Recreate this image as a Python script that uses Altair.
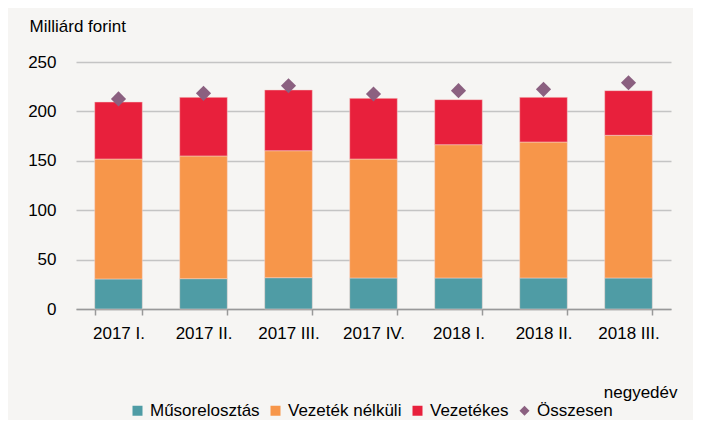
import altair as alt
import pandas as pd

quarters = ["2017 I.", "2017 II.", "2017 III.", "2017 IV.", "2018 I.", "2018 II.", "2018 III."]
musor = [30.4, 30.7, 31.7, 31.4, 31.4, 31.4, 31.4]
vezetek_nelkuli = [121.4, 124.2, 128.5, 120.4, 134.9, 137.6, 144.4]
vezetekes = [57.7, 59.3, 61.5, 61.4, 45.6, 45.2, 45.2]
osszesen = [212.6, 218.3, 226.0, 217.6, 221.0, 222.3, 229.0]

series = ["Műsorelosztás", "Vezeték nélküli", "Vezetékes", "Összesen"]
colors = ["#4f9ca5", "#f7964a", "#e8203c", "#8b6080"]
shapes = ["square", "square", "square", "diamond"]

rows = []
for i, q in enumerate(quarters):
    rows.append({"q": q, "s": series[0], "v": musor[i], "o": 0})
    rows.append({"q": q, "s": series[1], "v": vezetek_nelkuli[i], "o": 1})
    rows.append({"q": q, "s": series[2], "v": vezetekes[i], "o": 2})
bars_df = pd.DataFrame(rows)
tot_df = pd.DataFrame({"q": quarters, "s": series[3], "v": osszesen})

FONT = "Liberation Sans"
FS = 17

color_scale = alt.Scale(domain=series, range=colors)
shape_scale = alt.Scale(domain=series, range=shapes)
y_scale = alt.Scale(domain=[0, 250], nice=False, zero=True)

legend = alt.Legend(
    title=None, orient="none", legendX=53, legendY=340, direction="horizontal",
    labelFont=FONT, labelFontSize=FS, labelColor="#000000", symbolSize=100,
    symbolStrokeWidth=0, columnPadding=7, labelOffset=4, symbolOpacity=1,
)

x = alt.X("q:N", sort=quarters, scale=alt.Scale(paddingInner=0.44, paddingOuter=0.22),
          axis=alt.Axis(title="negyedév", titleFont=FONT, titleFontSize=FS, titleFontWeight="normal",
                        titleAnchor="end", titleAlign="right", titleX=601, titleY=88,
                        titleBaseline="alphabetic", titleColor="#000000",
                        labelFont=FONT, labelFontSize=FS, labelColor="#000000", labelAngle=0,
                        labelPadding=10, tickBand="extent", tickSize=6, tickColor="#999999",
                        domainColor="#999999", domainWidth=1.5, tickWidth=1.5, grid=False))

y_axis = alt.Axis(title="Milliárd forint", titleAngle=0, titleAlign="left", titleX=-47, titleY=-31,
                  titleBaseline="alphabetic", titleFont=FONT, titleFontSize=FS, titleFontWeight="normal",
                  titleColor="#000000",
                  values=[0, 50, 100, 150, 200, 250], labelFont=FONT, labelFontSize=FS,
                  labelColor="#000000", labelPadding=20, ticks=False, domain=False,
                  gridColor="#c4c4c4", gridWidth=1.5)

bars = alt.Chart(bars_df).mark_bar(stroke="#f4d7d0", strokeWidth=0.5).encode(
    x=x,
    y=alt.Y("sum(v):Q", scale=y_scale, axis=y_axis, stack="zero"),
    color=alt.Color("s:N", scale=color_scale, legend=legend),
    order=alt.Order("o:Q"),
)

pts = alt.Chart(tot_df).mark_point(filled=True, opacity=1, size=230).encode(
    x=x,
    y=alt.Y("v:Q", scale=y_scale),
    color=alt.Color("s:N", scale=color_scale, legend=legend),
    shape=alt.Shape("s:N", scale=shape_scale, legend=legend),
)

chart = alt.layer(bars, pts).properties(
    width=595, height=247,
    background="#f6f5f3",
    padding={"left": 68, "top": 54, "right": 22, "bottom": 111},
    autosize=alt.AutoSizeParams(type="none"),
).configure_view(stroke=None)

chart.save("out.html", embed_options={"renderer": "svg", "actions": False})
